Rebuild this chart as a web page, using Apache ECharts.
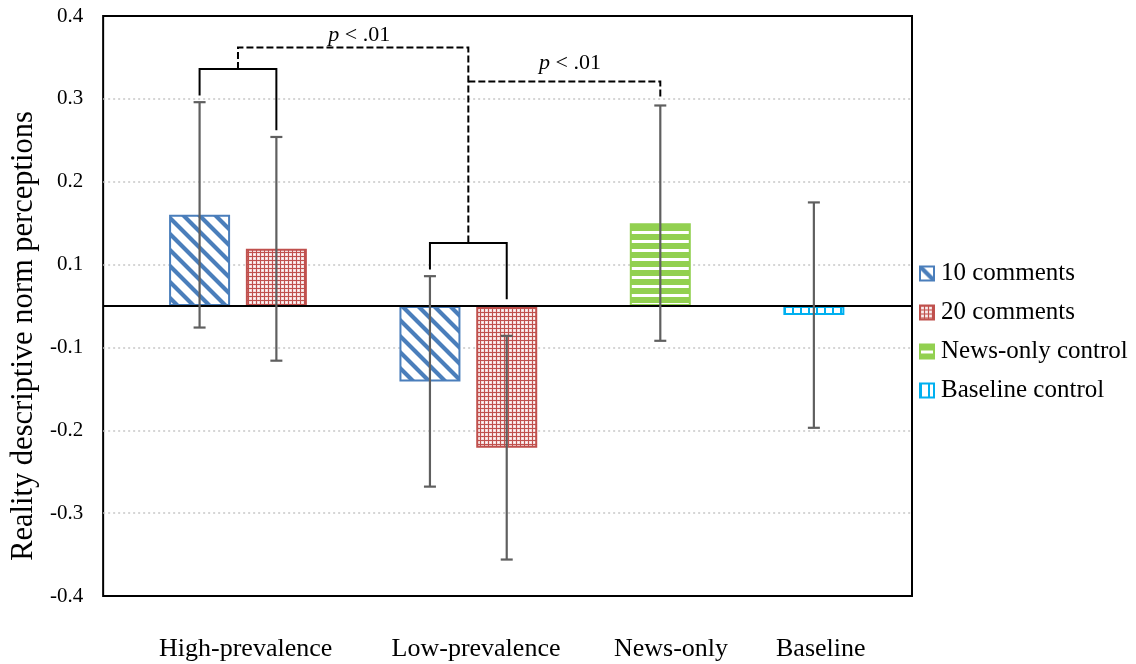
<!DOCTYPE html>
<html><head><meta charset="utf-8">
<script src="https://cdn.jsdelivr.net/npm/echarts@6/dist/echarts.min.js"></script>
<style>html,body{margin:0;padding:0;background:#fff}#c{width:1136px;height:664px}</style>
</head><body><div id="c"></div>
<script>
// ---------- data ----------
const categories = ['High-prevalence', 'Low-prevalence', 'News-only', 'Baseline'];
const seriesNames = ['10 comments', '20 comments', 'News-only control', 'Baseline control'];
const tenComments = [0.110, -0.091];      // High-prevalence, Low-prevalence
const twentyComments = [0.069, -0.171];   // High-prevalence, Low-prevalence
const newsOnly = [0.100];                 // News-only
const baseline = [-0.011];                // Baseline
const tenCommentsErr = [0.136, 0.127];
const twentyCommentsErr = [0.135, 0.135];
const newsOnlyErr = [0.142];
const baselineErr = [0.136];
const yTickLabels = ['-0.4', '-0.3', '-0.2', '-0.1', '0.1', '0.2', '0.3', '0.4'];
const yTitle = 'Reality descriptive norm perceptions';
const sigText = '{i|p} < .01';

// ---------- layout ----------
const yMin = -0.35, yMax = 0.35, yStep = 0.1;
const xMin = -1.256, xMax = 9.278;
const slots10 = [0, 3], slots20 = [1, 4], slotsNews = [6], slotsBase = [8];
const catLabelX = [0.6, 3.6, 6.14, 8.09];
const FONT = "'Liberation Serif', 'Times New Roman', serif";
const blue = '#4A7EBB', red = '#C0504D', green = '#92D050', cyan = '#00B0F0';

function makePattern(w, h, draw) {
  const c = document.createElement('canvas'); c.width = w; c.height = h;
  const g = c.getContext('2d'); g.fillStyle = '#fff'; g.fillRect(0, 0, w, h);
  draw(g, w, h);
  return { image: c, repeat: 'repeat' };
}
const pat10 = makePattern(16, 16, (g, w, h) => {
  g.strokeStyle = blue; g.lineWidth = 4.2; g.beginPath();
  [-w, 0, w].forEach(c => { g.moveTo(c - 2, -2); g.lineTo(c + h + 2, h + 2); });
  g.stroke();
});
const pat20 = makePattern(4, 4, (g) => {
  g.fillStyle = red; g.fillRect(0, 0, 4, 4);
  g.fillStyle = '#f4dcdc'; g.fillRect(1, 1, 3, 3);
  g.fillStyle = '#fff'; g.fillRect(2, 2, 1, 1);
});
const patNews = makePattern(4, 9, (g) => {
  g.fillStyle = green; g.fillRect(0, 0, 4, 6);
});
const patBase = makePattern(8, 4, (g) => {
  g.fillStyle = cyan; g.fillRect(0, 0, 2, 4);
});

const pts = (slots, vals) => slots.map((s, i) => [s, vals[i]]);
const errPts = (slots, vals, errs) => slots.map((s, i) => [s, vals[i] - errs[i], vals[i] + errs[i]]);

const errData = [].concat(
  errPts(slots10, tenComments, tenCommentsErr),
  errPts(slots20, twentyComments, twentyCommentsErr),
  errPts(slotsNews, newsOnly, newsOnlyErr),
  errPts(slotsBase, baseline, baselineErr)
);

// annotation geometry derived from data
const top10 = tenComments.map((v, i) => v + tenCommentsErr[i]);
const top20 = twentyComments.map((v, i) => v + twentyCommentsErr[i]);
const topNews = newsOnly[0] + newsOnlyErr[0];
const legGap = 0.008, bracketPad = 0.04;
const legEnd = (top, v) => Math.max(top, v, 0) + legGap;
const highBr = Math.max(top10[0], top20[0]) + bracketPad;
const lowBr = Math.max(top10[1], top20[1], 0) + bracketPad;
const highMid = (slots10[0] + slots20[0]) / 2, lowMid = (slots10[1] + slots20[1]) / 2;
const dash1Y = highBr + 0.026;
const dash2Y = topNews + 0.029;

function barSeries(name, data, color, pattern) {
  return {
    name, type: 'bar', data, barWidth: 61, barGap: '-100%',
    itemStyle: { color: pattern, borderColor: color, borderWidth: 2 },
    z: 2
  };
}

const chart = echarts.init(document.getElementById('c'), null, { renderer: 'canvas' });
chart.setOption({
  animation: false,
  backgroundColor: '#fff',
  grid: { left: 103, right: 224, top: 16, bottom: 68, show: true, borderColor: '#000', borderWidth: 2, backgroundColor: 'transparent' },
  legend: {
    orient: 'vertical', left: 919, top: 261, padding: 0, itemWidth: 14, itemHeight: 14, itemGap: 14,
    icon: 'rect', data: seriesNames,
    textStyle: { fontFamily: FONT, fontSize: 25, color: '#000', padding: [0, 0, 0, 2] }
  },
  xAxis: {
    type: 'value', min: xMin, max: xMax,
    axisLine: { show: false }, axisTick: { show: false }, splitLine: { show: false },
    axisLabel: {
      customValues: catLabelX, margin: 40, fontFamily: FONT, fontSize: 26, color: '#000',
      showMinLabel: true, showMaxLabel: true,
      formatter: v => {
        let best = 0, d = 1e9;
        catLabelX.forEach((p, i) => { if (Math.abs(p - v) < d) { d = Math.abs(p - v); best = i; } });
        return categories[best];
      }
    }
  },
  yAxis: {
    type: 'value', min: yMin, max: yMax, interval: yStep,
    name: yTitle, nameLocation: 'middle', nameGap: 38,
    nameTextStyle: { fontFamily: FONT, fontSize: 30.5, color: '#000', padding: [0, 60, 0, 0] },
    axisLine: { show: false }, axisTick: { show: false },
    splitLine: { show: true, showMinLine: false, showMaxLine: false, lineStyle: { color: '#c8c8c8', width: 1.5, type: [2, 3] } },
    axisLabel: {
      margin: 20, fontFamily: FONT, fontSize: 21, color: '#000',
      formatter: v => { const i = Math.round((v - yMin) / yStep); return yTickLabels[i] || ''; }
    }
  },
  series: [
    Object.assign(barSeries(seriesNames[0], pts(slots10, tenComments), blue, pat10), {
      markLine: {
        silent: true, symbol: 'none', label: { show: false },
        lineStyle: { color: '#000', width: 2, type: 'solid' },
        data: [{ yAxis: 0 }], z: 5
      }
    }),
    barSeries(seriesNames[1], pts(slots20, twentyComments), red, pat20),
    barSeries(seriesNames[2], pts(slotsNews, newsOnly), green, patNews),
    barSeries(seriesNames[3], pts(slotsBase, baseline), cyan, patBase),
    {
      name: 'error', type: 'custom', data: errData, z: 6, silent: true, clip: false,
      renderItem: (params, api) => {
        const x = api.value(0);
        const lo = api.coord([x, api.value(1)]), hi = api.coord([x, api.value(2)]);
        const hw = 6, st = { stroke: '#5f5f5f', lineWidth: 2.2 };
        return {
          type: 'group', children: [
            { type: 'line', shape: { x1: lo[0], y1: lo[1], x2: hi[0], y2: hi[1] }, style: st },
            { type: 'line', shape: { x1: lo[0] - hw, y1: lo[1], x2: lo[0] + hw, y2: lo[1] }, style: st },
            { type: 'line', shape: { x1: hi[0] - hw, y1: hi[1], x2: hi[0] + hw, y2: hi[1] }, style: st }
          ]
        };
      }
    },
    {
      name: 'annotations', type: 'custom', data: [[0, 0]], z: 7, silent: true, clip: false,
      renderItem: (params, api) => {
        const P = p => api.coord(p);
        const poly = (points, dashed) => ({
          type: 'polyline', shape: { points: points.map(P) },
          style: { stroke: '#000', lineWidth: 2, fill: null, lineDash: dashed ? [7, 3] : null }
        });
        const txt = (x, y) => {
          const p = P([x, y]);
          return {
            type: 'text', x: p[0], y: p[1],
            style: {
              text: sigText, fontFamily: FONT, fontSize: 22, fill: '#000', align: 'center', verticalAlign: 'middle',
              rich: { i: { fontStyle: 'italic', fontFamily: FONT, fontSize: 22, fill: '#000' } }
            }
          };
        };
        return {
          type: 'group', children: [
            poly([[slots10[0], legEnd(top10[0], tenComments[0])], [slots10[0], highBr], [slots20[0], highBr], [slots20[0], legEnd(top20[0], twentyComments[0])]], false),
            poly([[slots10[1], legEnd(top10[1], tenComments[1])], [slots10[1], lowBr], [slots20[1], lowBr], [slots20[1], legEnd(top20[1], twentyComments[1])]], false),
            poly([[highMid, highBr], [highMid, dash1Y], [lowMid, dash1Y], [lowMid, lowBr]], true),
            poly([[lowMid, dash2Y], [slotsNews[0], dash2Y], [slotsNews[0], topNews + legGap]], true),
            txt((highMid + lowMid) / 2 + 0.08, dash1Y + 0.0145),
            txt((lowMid + slotsNews[0]) / 2 + 0.075, dash2Y + 0.0215)
          ]
        };
      }
    }
  ]
});
</script>
</body></html>
